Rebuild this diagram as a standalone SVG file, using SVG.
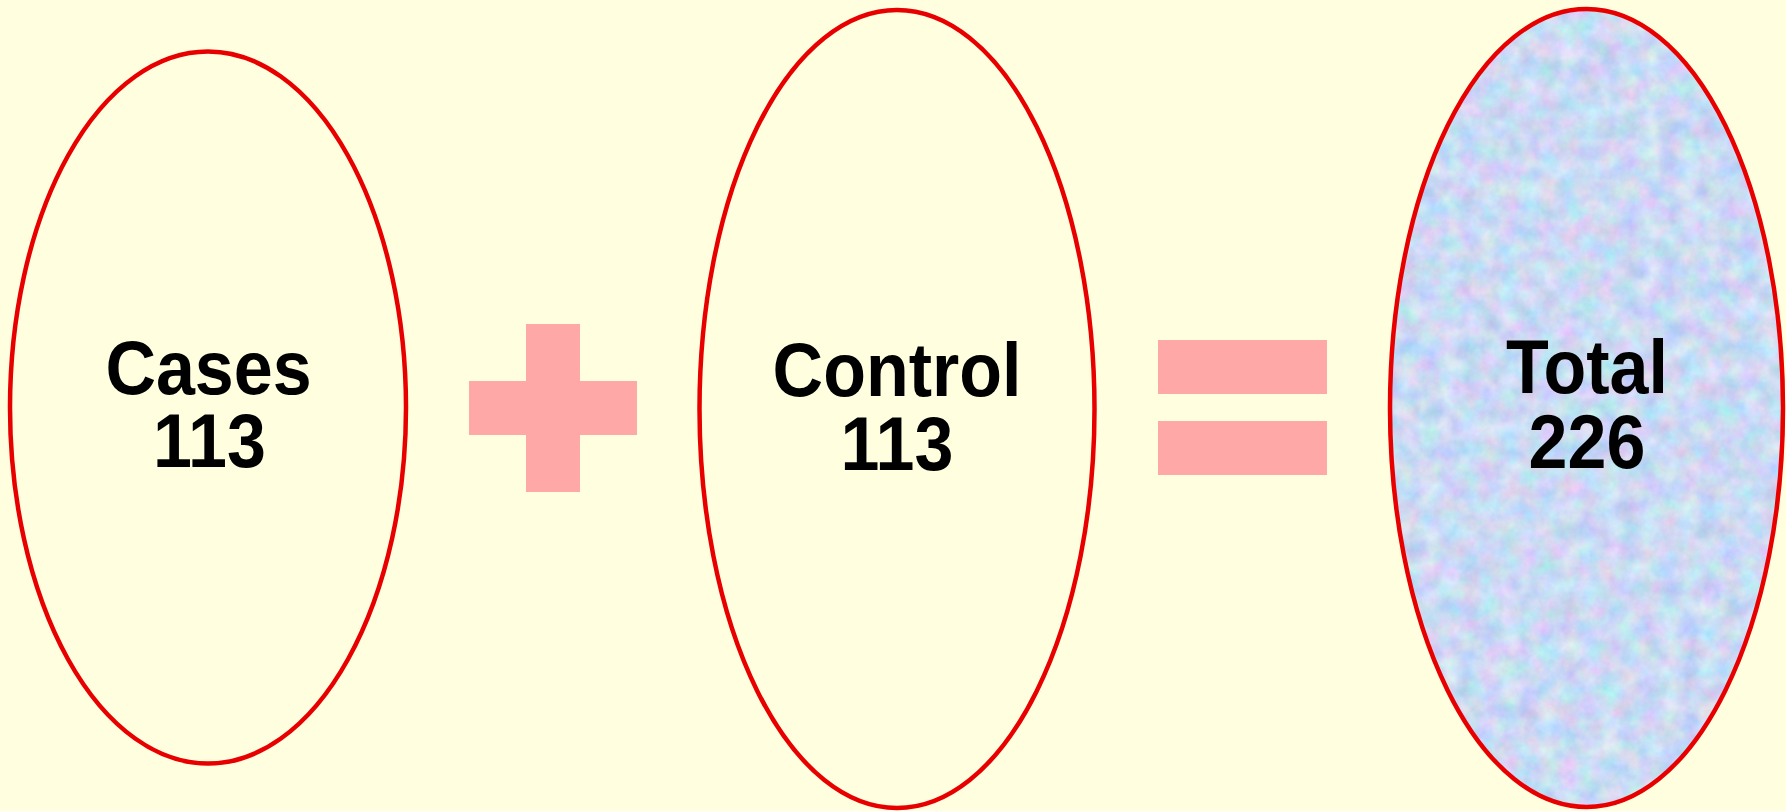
<svg xmlns="http://www.w3.org/2000/svg" width="1786" height="811" viewBox="0 0 1786 811">
<style>
.oval{fill:none;stroke:#e80000;stroke-width:4.5}
.op{fill:#ffa8a8}
.lbl{font-family:"Liberation Sans",Arial,sans-serif;font-weight:bold;font-size:70px;fill:#000;text-anchor:middle}
</style>
<defs>
<filter id="tex" x="0" y="0" width="100%" height="100%" color-interpolation-filters="sRGB">
<feTurbulence type="fractalNoise" baseFrequency="0.05" numOctaves="4" seed="7" result="n"/>
<feColorMatrix in="n" type="matrix" values="0.35 0 0 0 0.62  0 0.25 0 0 0.73  0 0 0.15 0 0.88  0 0 0 0 1" result="c"/>
<feComposite in="c" in2="SourceGraphic" operator="in"/>
</filter>
</defs>
<rect width="1786" height="811" fill="#ffffe0"/>
<g id="cases">
<ellipse class="oval" cx="208" cy="407.5" rx="198" ry="356"/>
<text class="lbl" transform="translate(208.5,394) scale(1,1.08)">Cases</text>
<text class="lbl" transform="translate(209.5,467) scale(1,1.08)">113</text>
</g>
<g id="plus" class="op">
<rect x="526" y="324" width="54" height="168"/>
<rect x="469" y="381" width="168" height="54"/>
</g>
<g id="control">
<ellipse class="oval" cx="897" cy="409" rx="197.5" ry="399"/>
<text class="lbl" transform="translate(897,396) scale(1,1.08)">Control</text>
<text class="lbl" transform="translate(897,470) scale(1,1.08)">113</text>
</g>
<g id="equals" class="op">
<rect x="1158" y="340" width="169" height="54"/>
<rect x="1158" y="421" width="169" height="54"/>
</g>
<g id="total">
<ellipse cx="1586.5" cy="408" rx="196.5" ry="399" fill="#c8d6f4" filter="url(#tex)"/>
<ellipse class="oval" cx="1586.5" cy="408" rx="196.5" ry="399"/>
<text class="lbl" transform="translate(1587,393) scale(1,1.08)">Total</text>
<text class="lbl" transform="translate(1587,468) scale(1,1.08)">226</text>
</g>
<g id="connectors"/>
</svg>
